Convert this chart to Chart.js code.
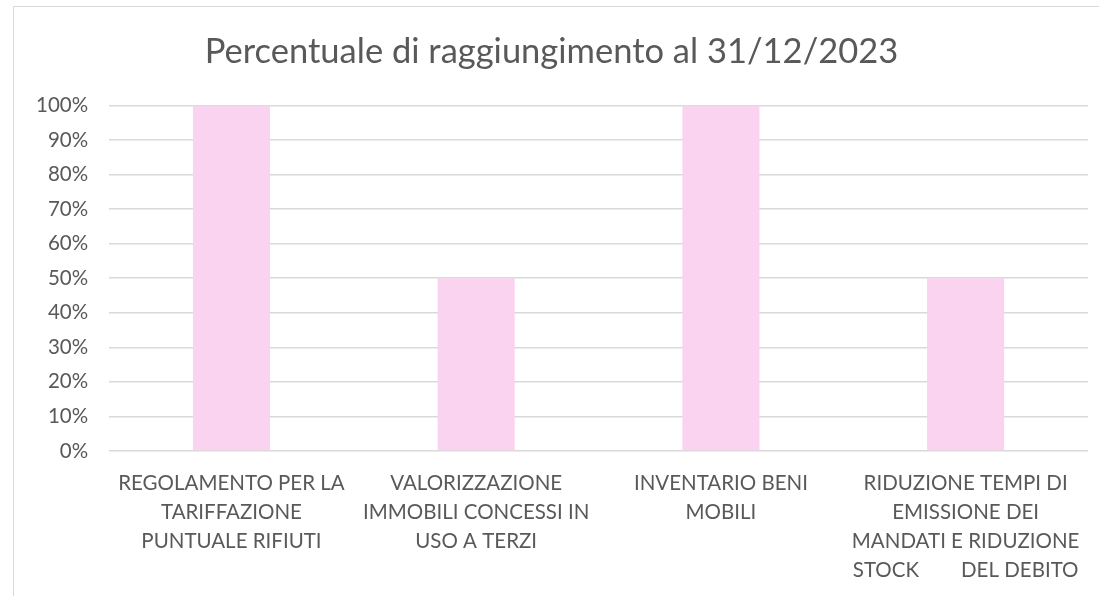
<!DOCTYPE html>
<html>
<head>
<meta charset="utf-8">
<script src="https://cdn.jsdelivr.net/npm/chart.js@4"></script>
<style>
body { margin: 0; background: #fff; }
#wrap { position: relative; width: 1099px; height: 596px; }
#frame { position: absolute; left: 13px; top: 6px; right: -2px; bottom: -2px; border: 1px solid #d9d9d9; }
canvas { position: absolute; left: 0; top: 0; }
</style>
</head>
<body>
<div id="wrap">
<div id="frame"></div>
<canvas id="chart" width="1099" height="596"></canvas>
</div>
<script>
const categories = [
	['REGOLAMENTO PER LA', 'TARIFFAZIONE', 'PUNTUALE RIFIUTI'],
	['VALORIZZAZIONE', 'IMMOBILI CONCESSI IN', 'USO A TERZI'],
	['INVENTARIO BENI', 'MOBILI'],
	['RIDUZIONE TEMPI DI', 'EMISSIONE DEI', 'MANDATI E RIDUZIONE', 'STOCK        DEL DEBITO']
];
const achieved = [1, 0.5, 1, 0.5];
const titleText = 'Percentuale di raggiungimento al 31/12/2023';

new Chart(document.getElementById('chart'), {
	type: 'bar',
	data: {
		labels: categories,
		datasets: [{
			label: 'Percentuale',
			data: achieved,
			backgroundColor: '#fad3f0',
			barPercentage: 0.63,
			categoryPercentage: 0.5
		}]
	},
	options: {
		responsive: false,
		animation: false,
		layout: { padding: { left: 15, right: 11, top: 31, bottom: 1 } },
		plugins: {
			legend: { display: false },
			tooltip: { enabled: false },
			title: {
				display: true,
				text: titleText,
				color: '#595959',
				font: { family: 'Lato', size: 34.5, weight: 'normal' },
				padding: { top: 0, bottom: 33 }
			}
		},
		scales: {
			x: {
				grid: { display: false },
				border: { display: false },
				ticks: {
					color: '#595959',
					font: { family: 'Lato', size: 20.5, lineHeight: '29px' },
					maxRotation: 0,
					autoSkip: false,
					padding: 10
				}
			},
			y: {
				min: 0,
				max: 1,
				border: { display: false },
				grid: { color: '#d9d9d9', lineWidth: 1.5, drawTicks: false },
				ticks: {
					stepSize: 0.1,
					color: '#595959',
					padding: 21,
					font: { family: 'Lato', size: 20.5 },
					callback: v => Math.round(v * 100) + '%'
				}
			}
		}
	}
});
</script>
</body>
</html>
